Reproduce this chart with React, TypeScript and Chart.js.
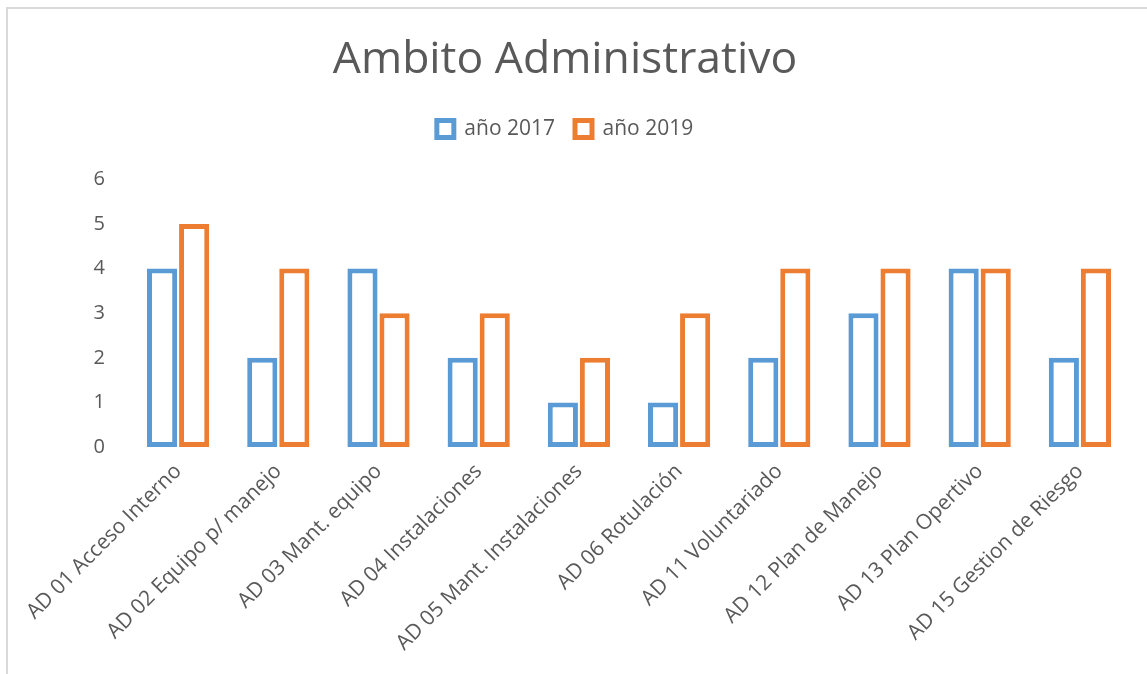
import React, { useEffect, useRef } from "react";
import { Chart, registerables } from "chart.js";

Chart.register(...registerables);

const categories = [
  "AD 01 Acceso Interno",
  "AD 02 Equipo p/ manejo",
  "AD 03 Mant. equipo",
  "AD 04 Instalaciones",
  "AD 05 Mant. Instalaciones",
  "AD 06 Rotulación",
  "AD 11 Voluntariado",
  "AD 12 Plan de Manejo",
  "AD 13 Plan Opertivo",
  "AD 15 Gestion de Riesgo",
];
const values2017 = [4, 2, 4, 2, 1, 1, 2, 3, 4, 2];
const values2019 = [5, 4, 3, 3, 2, 3, 4, 4, 4, 4];
const yTicks = [0, 1, 2, 3, 4, 5, 6];

const FONT = "'Open Sans', sans-serif";
const TEXT = "#595959";

const legendSpacer = {
  id: "legendSpacer",
  beforeInit(chart: any) {
    const legend = chart.legend;
    if (!legend) return;
    const orig = legend.fit;
    legend.fit = function () {
      orig.call(this);
      this.height += 30;
    };
  },
};

export default function App() {
  const ref = useRef<HTMLCanvasElement | null>(null);
  useEffect(() => {
    if (!ref.current) return;
    const chart = new Chart(ref.current, {
      type: "bar",
      data: {
        labels: categories,
        datasets: [
          {
            label: "año 2017",
            data: values2017,
            backgroundColor: "#ffffff",
            borderColor: "#5B9BD5",
            borderWidth: 5,
            borderSkipped: false,
            barPercentage: 0.94,
            categoryPercentage: 0.64,
          },
          {
            label: "año 2019",
            data: values2019,
            backgroundColor: "#ffffff",
            borderColor: "#ED7D31",
            borderWidth: 5,
            borderSkipped: false,
            barPercentage: 0.94,
            categoryPercentage: 0.64,
          },
        ],
      },
      plugins: [legendSpacer],
      options: {
        responsive: false,
        animation: false,
        layout: { padding: { left: 0, right: 17, top: 24, bottom: 0 } },
        plugins: {
          title: {
            display: true,
            text: "Ambito Administrativo",
            color: TEXT,
            font: { family: FONT, size: 44.5, weight: "normal" },
            padding: { top: 10, bottom: 11 },
          },
          legend: {
            display: true,
            labels: {
              color: TEXT,
              font: { family: FONT, size: 21 },
              boxWidth: 17,
              boxHeight: 17,
              padding: 20,
              generateLabels: (c: any) =>
                c.data.datasets.map((ds: any, i: number) => ({
                  text: ds.label,
                  fillStyle: "#ffffff",
                  strokeStyle: ds.borderColor,
                  lineWidth: 5,
                  fontColor: TEXT,
                  datasetIndex: i,
                  hidden: false,
                })),
            },
          },
          tooltip: { enabled: false },
        },
        scales: {
          x: {
            grid: { display: false },
            border: { display: false },
            afterFit: (axis: any) => {
              axis.height = 227;
            },
            ticks: {
              color: TEXT,
              font: { family: FONT, size: 21 },
              minRotation: 45,
              maxRotation: 45,
              autoSkip: false,
              padding: 4,
            },
          },
          y: {
            min: 0,
            max: 6,
            grid: { display: false },
            border: { display: false },
            afterFit: (axis: any) => {
              axis.width = 128;
            },
            afterBuildTicks: (axis: any) => {
              axis.ticks = yTicks.map((v) => ({ value: v }));
            },
            ticks: {
              color: TEXT,
              font: { family: FONT, size: 20 },
              padding: 15,
            },
          },
        },
      },
    });
    return () => chart.destroy();
  }, []);
  return (
    <div style={{ position: "absolute", left: 0, top: 0, width: 1147, height: 674, background: "#fff", overflow: "hidden" }}>
      <div style={{ position: "absolute", left: 6, top: 7, width: 1200, height: 700, borderLeft: "2px solid #D9D9D9", borderTop: "2px solid #D9D9D9" }} />
      <canvas ref={ref} width={1147} height={674} style={{ position: "absolute", left: 0, top: 0 }} />
    </div>
  );
}
